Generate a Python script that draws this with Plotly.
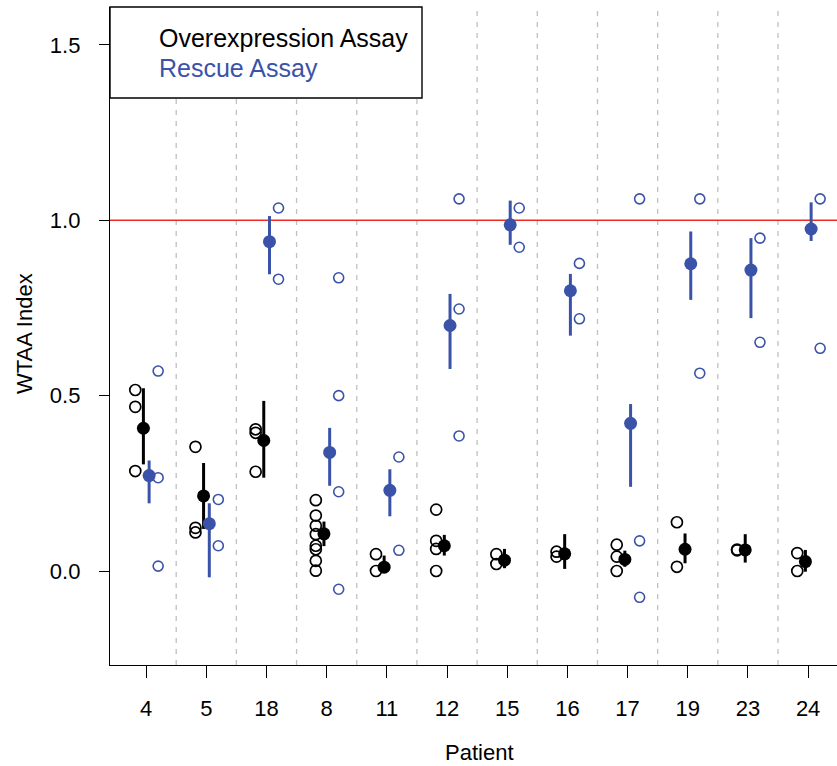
import plotly.graph_objects as go

# ---------------- data ----------------
patients = ["4", "5", "18", "8", "11", "12", "15", "16", "17", "19", "23", "24"]

over_reps = [
    [0.516, 0.468, 0.285],
    [0.354, 0.123, 0.110],
    [0.404, 0.394, 0.283],
    [0.202, 0.158, 0.129, 0.105, 0.072, 0.062, 0.029, 0.001],
    [0.048, 0.000],
    [0.175, 0.086, 0.063, 0.000],
    [0.048, 0.020],
    [0.055, 0.041],
    [0.075, 0.041, 0.000],
    [0.139, 0.012],
    [0.061, 0.059],
    [0.051, 0.000],
]
over_mean = [0.407, 0.214, 0.372, 0.106, 0.011, 0.072, 0.031, 0.049, 0.033, 0.062, 0.060, 0.027]
over_lo   = [0.304, 0.120, 0.266, 0.071, -0.002, 0.044, 0.008, 0.006, 0.012, 0.022, 0.024, -0.002]
over_hi   = [0.521, 0.308, 0.485, 0.141, 0.044, 0.103, 0.063, 0.105, 0.058, 0.107, 0.105, 0.060]

rescue_reps = [
    [0.570, 0.266, 0.014],
    [0.204, 0.072],
    [1.035, 0.832],
    [0.836, 0.500, 0.226, -0.052],
    [0.325, 0.059],
    [1.061, 0.747, 0.385],
    [1.035, 0.923],
    [0.877, 0.719],
    [1.061, 0.086, -0.075],
    [1.061, 0.564],
    [0.949, 0.652],
    [1.061, 0.635],
]
rescue_mean = [0.272, 0.135, 0.939, 0.338, 0.230, 0.700, 0.987, 0.799, 0.421, 0.876, 0.858, 0.975]
rescue_lo   = [0.193, -0.018, 0.846, 0.243, 0.156, 0.576, 0.930, 0.671, 0.240, 0.773, 0.721, 0.941]
rescue_hi   = [0.315, 0.193, 1.012, 0.408, 0.290, 0.790, 1.056, 0.847, 0.476, 0.968, 0.949, 1.051]

reference_value = 1.0
y_ticks = [0.0, 0.5, 1.0, 1.5]
y_tick_text = ["0.0", "0.5", "1.0", "1.5"]

# ---------------- styles ----------------
BLACK = "#000000"
BLUE = "#3a53a8"
RED = "#ee2a24"
FONT = "Liberation Sans, Arial, sans-serif"

W, H = 837, 766
ML, MR, MT, MB = 110, 0, 7, 101
X_RANGE = [0.4, 12.48]
Y_RANGE = [-0.268, 1.608]

fig = go.Figure()


def add_group(reps, mean, lo, hi, color, open_off, mean_off, osize, owidth):
    n = len(patients)
    xo, yo = [], []
    for i in range(n):
        for v in reps[i]:
            xo.append(i + 1 + open_off)
            yo.append(v)
    fig.add_trace(go.Scatter(
        x=xo, y=yo, mode="markers",
        marker=dict(symbol="circle-open", size=osize, color=color, line=dict(width=owidth, color=color)),
        showlegend=False, hoverinfo="skip"))
    xe, ye = [], []
    for i in range(n):
        xe += [i + 1 + mean_off, i + 1 + mean_off, None]
        ye += [lo[i], hi[i], None]
    fig.add_trace(go.Scatter(
        x=xe, y=ye, mode="lines", line=dict(color=color, width=3),
        showlegend=False, hoverinfo="skip"))
    fig.add_trace(go.Scatter(
        x=[i + 1 + mean_off for i in range(n)], y=mean, mode="markers",
        marker=dict(symbol="circle", size=13, color=color),
        showlegend=False, hoverinfo="skip"))


add_group(over_reps, over_mean, over_lo, over_hi, BLACK, -0.18, -0.045, 11, 1.7)
add_group(rescue_reps, rescue_mean, rescue_lo, rescue_hi, BLUE, 0.2, 0.05, 10, 1.6)

shapes = []
# dashed separators between patients
for i in range(1, len(patients)):
    shapes.append(dict(type="line", xref="x", yref="paper", x0=i + 0.5, x1=i + 0.5, y0=0, y1=1,
                       line=dict(color="#c0c0c0", width=1.3, dash="5px,6px"), layer="below"))
# reference line
shapes.append(dict(type="line", xref="paper", yref="y", x0=0, x1=1, y0=reference_value, y1=reference_value,
                   line=dict(color=RED, width=1.5), layer="below"))
# legend box
pw = W - ML - MR
ph = H - MT - MB
shapes.append(dict(type="rect", xref="paper", yref="paper",
                   x0=0, x1=(422 - ML) / pw, y0=(H - MB - 98) / ph, y1=1.0,
                   line=dict(color="#000000", width=1.4), fillcolor="white", layer="above"))

annotations = [
    dict(text="Overexpression Assay", xref="paper", yref="paper",
         x=(157 - ML) / pw, y=(H - MB - 38) / ph, xanchor="left", yanchor="middle",
         showarrow=False, font=dict(family=FONT, size=25, color=BLACK)),
    dict(text="Rescue Assay", xref="paper", yref="paper",
         x=(157 - ML) / pw, y=(H - MB - 68) / ph, xanchor="left", yanchor="middle",
         showarrow=False, font=dict(family=FONT, size=25, color=BLUE)),
    dict(text="WTAA Index", xref="paper", yref="paper",
         x=(24 - ML) / pw, y=(H - MB - 334) / ph, xanchor="center", yanchor="middle",
         textangle=-90, showarrow=False, font=dict(family=FONT, size=22, color=BLACK)),
    dict(text="Patient", xref="paper", yref="paper",
         x=(480 - ML) / pw, y=(H - MB - 752) / ph, xanchor="center", yanchor="middle",
         showarrow=False, font=dict(family=FONT, size=22, color=BLACK)),
]

fig.update_layout(
    width=W, height=H,
    margin=dict(l=ML, r=MR, t=MT, b=MB),
    paper_bgcolor="white", plot_bgcolor="white",
    shapes=shapes, annotations=annotations,
    font=dict(family=FONT, size=22, color=BLACK),
    showlegend=False,
)
fig.update_xaxes(
    range=X_RANGE, tickmode="array", tickvals=list(range(1, len(patients) + 1)), ticktext=patients,
    showgrid=False, zeroline=False, showline=True, linecolor="black", linewidth=1.4,
    ticks="outside", ticklen=12, tickwidth=1.3, tickcolor="black", ticklabelstandoff=11,
    tickfont=dict(family=FONT, size=22, color=BLACK),
)
fig.update_yaxes(
    range=Y_RANGE, tickmode="array", tickvals=y_ticks, ticktext=y_tick_text,
    showgrid=False, zeroline=False, showline=True, linecolor="black", linewidth=1.4,
    ticks="outside", ticklen=10, tickwidth=1.3, tickcolor="black", ticklabelstandoff=14,
    tickfont=dict(family=FONT, size=22, color=BLACK),
)

fig.write_html("out.html")
